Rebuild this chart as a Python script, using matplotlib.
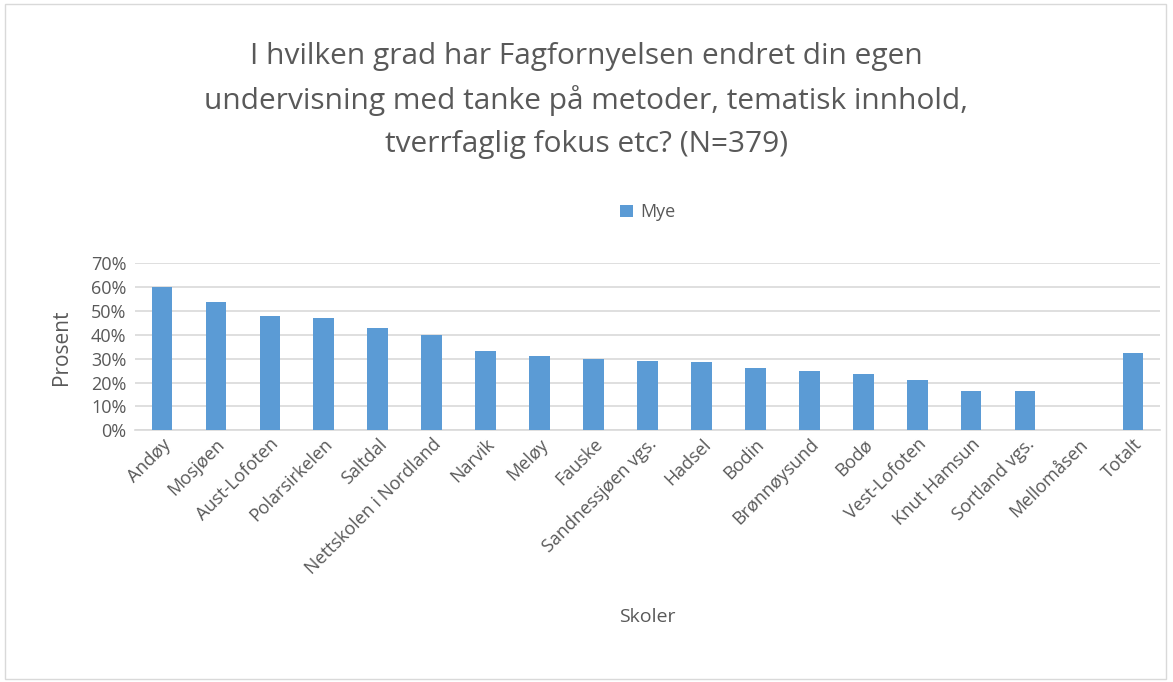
import matplotlib.pyplot as plt
from matplotlib.ticker import PercentFormatter, MultipleLocator

plt.rcParams['font.family'] = ['Open Sans', 'DejaVu Sans']

skoler = ['Andøy', 'Mosjøen', 'Aust-Lofoten', 'Polarsirkelen', 'Saltdal',
          'Nettskolen i Nordland', 'Narvik', 'Meløy', 'Fauske',
          'Sandnessjøen vgs.', 'Hadsel', 'Bodin', 'Brønnøysund', 'Bodø',
          'Vest-Lofoten', 'Knut Hamsun', 'Sortland vgs.', 'Mellomåsen', 'Totalt']
mye = [60.0, 53.6, 47.7, 47.1, 42.9, 40.0, 33.4, 31.0, 29.9,
       29.1, 28.5, 26.2, 24.8, 23.4, 20.9, 16.6, 16.6, 0.0, 32.4]

grey = '#595959'
fig = plt.figure(figsize=(11.73, 6.82), dpi=100)
ax = fig.add_axes([0.115, 0.369, 0.874, 0.245])

x = range(len(skoler))
ax.bar(x, mye, width=0.38, color='#5b9bd5', label='Mye', zorder=3)

ax.set_ylim(0, 70)
ax.set_xlim(-0.5, len(skoler) - 0.5)
ax.yaxis.set_major_locator(MultipleLocator(10))
ax.yaxis.set_major_formatter(PercentFormatter(decimals=0))
ax.grid(axis='y', color='#d9d9d9', linewidth=1.2, zorder=0)
for s in ['top', 'right', 'left']:
    ax.spines[s].set_visible(False)
ax.spines['bottom'].set_color('#d9d9d9')
ax.spines['bottom'].set_linewidth(1.2)
ax.tick_params(length=0, colors=grey, labelsize=13)
ax.tick_params(axis='y', pad=6)
ax.set_xticks(list(x))
ax.set_xticklabels(skoler, rotation=45, ha='right', rotation_mode='anchor')
ax.set_ylabel('Prosent', color=grey, fontsize=15, labelpad=14)
ax.set_xlabel('Skoler', color=grey, fontsize=14, labelpad=22)

fig.text(0.5, 0.853, 'I hvilken grad har Fagfornyelsen endret din egen\n'
         'undervisning med tanke på metoder, tematisk innhold,\n'
         'tverrfaglig fokus etc? (N=379)', ha='center', va='center',
         fontsize=21.5, color=grey, linespacing=1.62)

ax.legend(loc='center', bbox_to_anchor=(0.5, 1.305), frameon=False,
          fontsize=13, labelcolor=grey, handlelength=0.7, handleheight=0.7,
          handletextpad=0.4)

fig.patches.append(plt.Rectangle((0.004, 0.004), 0.99, 0.99, transform=fig.transFigure,
                                 fill=False, edgecolor='#d9d9d9', linewidth=1))

fig.savefig('out.png', dpi=100)
